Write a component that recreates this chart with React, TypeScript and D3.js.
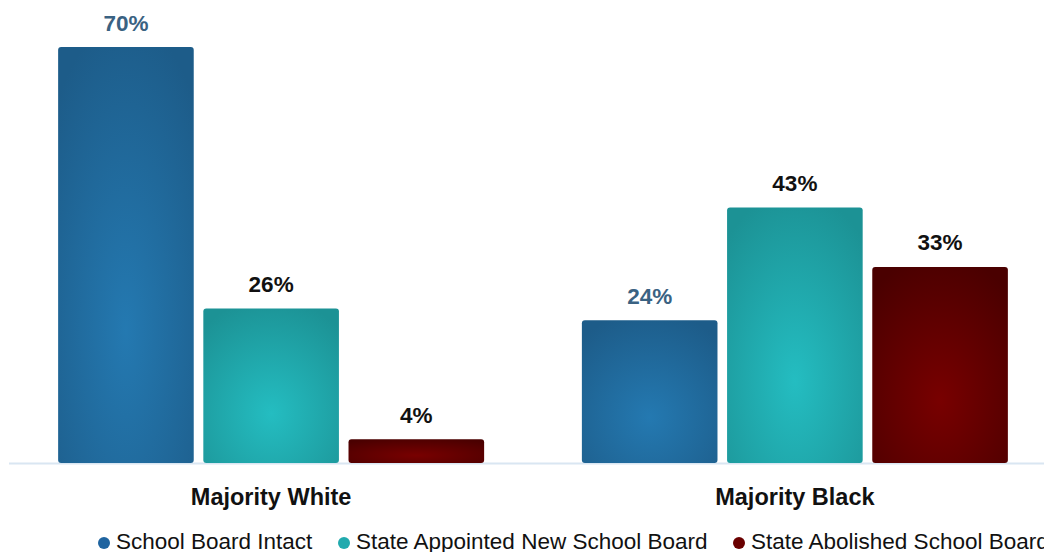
import React from "react";
import * as d3 from "d3";

const categories = ["Majority White", "Majority Black"];
const seriesNames = ["School Board Intact", "State Appointed New School Board", "State Abolished School Board"];
const intact = [70, 24];
const appointed = [26, 43];
const abolished = [4, 33];
const seriesValues = [intact, appointed, abolished];

const W = 1044;
const H = 552;
const baseY = 463;
const font = "'Liberation Sans', Arial, sans-serif";

const grads = [
  { id: "g0", inner: "#2479b1", outer: "#1d5c89" },
  { id: "g1", inner: "#24bdc1", outer: "#1c9295" },
  { id: "g2", inner: "#780000", outer: "#4a0000" },
];
const legendColors = ["#1f64a0", "#21aaae", "#6a0000"];
const labelColors = ["#3a6282", "#111", "#111"];

export default function App() {
  const x0 = d3.scaleBand<string>().domain(categories).range([9.25, 1056.75]).paddingInner(0).paddingOuter(0);
  const groupW = 426;
  const inner = d3.scaleBand<number>().domain([0, 1, 2]).range([0, groupW]).paddingInner(0.066);
  const y = d3.scaleLinear().domain([0, 70]).range([baseY, 47]);

  return (
    <svg width={W} height={H} style={{ position: "absolute", left: 0, top: 0, display: "block" }}>
      <defs>
        {grads.map((g) => (
          <radialGradient key={g.id} id={g.id} cx="0.5" cy="0.68" r="0.75">
            <stop offset="0" stopColor={g.inner} />
            <stop offset="1" stopColor={g.outer} />
          </radialGradient>
        ))}
      </defs>
      <rect x={0} y={0} width={W} height={H} fill="#fff" />
      <line x1={9} x2={W} y1={baseY + 0.5} y2={baseY + 0.5} stroke="#d9e6f2" strokeWidth={2} />
      {categories.map((c, ci) => {
        const gx = (x0(c) as number) + x0.bandwidth() / 2 - groupW / 2;
        return (
          <g key={c}>
            {seriesValues.map((vals, si) => {
              const v = vals[ci];
              const bx = gx + (inner(si) as number);
              const bw = inner.bandwidth();
              const top = y(v);
              return (
                <g key={si}>
                  <rect x={bx} y={top} width={bw} height={baseY - top} rx={3} fill={`url(#g${si})`} />
                  <text x={bx + bw / 2} y={top - 16.5} textAnchor="middle" fontFamily={font} fontWeight="bold" fontSize={22.5} fill={labelColors[si]}>
                    {v}%
                  </text>
                </g>
              );
            })}
            <text x={(x0(c) as number) + x0.bandwidth() / 2} y={505} textAnchor="middle" fontFamily={font} fontWeight="bold" fontSize={23.5} fill="#111">
              {c}
            </text>
          </g>
        );
      })}
      {seriesNames.map((s, i) => {
        const lx = [104, 344, 739][i];
        return (
          <g key={s}>
            <circle cx={lx} cy={543} r={6} fill={legendColors[i]} />
            <text x={lx + 12} y={549} fontFamily={font} fontSize={22.5} fill="#111">
              {s}
            </text>
          </g>
        );
      })}
    </svg>
  );
}
